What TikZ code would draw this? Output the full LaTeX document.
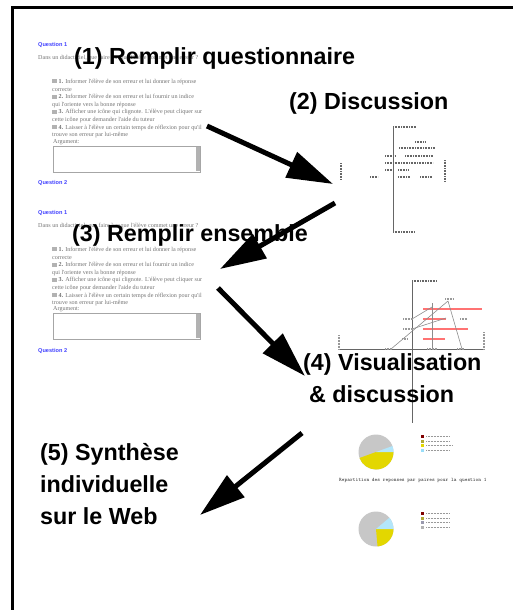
\documentclass[tikz,border=0pt]{standalone}
\usepackage{fontspec}
\setmainfont{Liberation Sans}
\newfontfamily\capturefont{Liberation Serif}
\usetikzlibrary{arrows.meta}

\newcommand{\caseq}{\textcolor{black!30}{\rule{5pt}{4pt}}}

\begin{document}
\begin{tikzpicture}[x=1pt,y=1pt,yscale=-1,
	etape/.style={font=\bfseries\fontsize{23.3}{32}\selectfont,anchor=base west,inner sep=0pt,align=left},
	fleche/.style={line width=5pt,-{Triangle[length=46pt,width=27pt]}},
	qtitre/.style={font=\bfseries\fontsize{5.6}{6.5}\selectfont,text=blue!75,anchor=west,inner sep=0pt},
	capture/.style={font=\capturefont\fontsize{6.1}{7.6}\selectfont,text=black!55,anchor=west,inner sep=0pt},
	gribouillis/.style={line width=1.4pt,dash pattern=on 1pt off 0.6pt,black!60},
	gribpale/.style={line width=1.2pt,dash pattern=on 1pt off 0.5pt,black!40},
	axe/.style={line width=0.8pt,black!60}]
	\useasboundingbox (0,0) rectangle (513,610);

	%Frame
	\draw [line width=3pt]  (12.5,610) -- (12.5,8) -- (513,8) ;

	%Capture: formulaire (1)
	% Text Node
	\node [qtitre] (qa) at (38,45) {Question 1};
	% Text Node
	\node [capture] (introa) at (38,58) {Dans un didacticiel, que faire lorsque l'élève commet une erreur ?};
	% Text Node
	\node [capture,anchor=north west,align=left] (choixa) at (52,79) {\caseq\ \textbf{1.} Informer l'élève de son erreur et lui donner la réponse\\ correcte\\ \caseq\ \textbf{2.} Informer l'élève de son erreur et lui fournir un indice\\ qui l'oriente vers la bonne réponse\\ \caseq\ \textbf{3.} Afficher une icône qui clignote. L'élève peut cliquer sur\\ cette icône pour demander l'aide du tuteur\\ \caseq\ \textbf{4.} Laisser à l'élève un certain temps de réflexion pour qu'il\\ trouve son erreur par lui-même};
	% Text Node
	\node [capture] (arga) at (53,142) {Argument:};
	%Shape: Rectangle
	\draw [black!35]  (53,146) rectangle (200,172) ;
	\fill [black!30]  (196,147) rectangle (199.5,171) ;
	% Text Node
	\node [qtitre] (qfina) at (38,183) {Question 2};

	%Capture: formulaire (3)
	% Text Node
	\node [qtitre] (qb) at (38,213) {Question 1};
	% Text Node
	\node [capture] (introb) at (38,226) {Dans un didacticiel, que faire lorsque l'élève commet une erreur ?};
	% Text Node
	\node [capture,anchor=north west,align=left] (choixb) at (52,247) {\caseq\ \textbf{1.} Informer l'élève de son erreur et lui donner la réponse\\ correcte\\ \caseq\ \textbf{2.} Informer l'élève de son erreur et lui fournir un indice\\ qui l'oriente vers la bonne réponse\\ \caseq\ \textbf{3.} Afficher une icône qui clignote. L'élève peut cliquer sur\\ cette icône pour demander l'aide du tuteur\\ \caseq\ \textbf{4.} Laisser à l'élève un certain temps de réflexion pour qu'il\\ trouve son erreur par lui-même};
	% Text Node
	\node [capture] (argb) at (53,309) {Argument:};
	%Shape: Rectangle
	\draw [black!35]  (53,313) rectangle (200,339) ;
	\fill [black!30]  (196,314) rectangle (199.5,338) ;
	% Text Node
	\node [qtitre] (qfinb) at (38,351) {Question 2};

	%Capture: graphe (2)
	\draw [axe]  (393,127) -- (393,232) ;
	\draw [gribouillis]  (393,127) -- (416,127) ;
	\draw [gribouillis]  (393,232) -- (414,232) ;
	\draw [gribouillis]  (341,163) -- (341,180) ;
	\draw [gribouillis]  (445,160) -- (445,181) ;
	\draw [gribouillis]  (415,142) -- (425,142) ;
	\draw [gribouillis]  (399,148) -- (435,148) ;
	\draw [gribouillis]  (385,156) -- (395,156) ;
	\draw [gribouillis]  (405,156) -- (433,156) ;
	\draw [gribouillis]  (385,163) -- (433,163) ;
	\draw [gribouillis]  (385,170) -- (392,170) ;
	\draw [gribouillis]  (398,170) -- (408,170) ;
	\draw [gribouillis]  (370,177) -- (378,177) ;
	\draw [gribouillis]  (398,177) -- (410,177) ;
	\draw [gribouillis]  (420,177) -- (432,177) ;

	%Capture: graphe (4)
	\draw [axe]  (412,280) -- (412,423) ;
	\draw [axe]  (340,349) -- (483,349) ;
	\draw [red!55,line width=2pt]  (423,309) -- (482,309) ;
	\draw [red!55,line width=2pt]  (423,319) -- (446,319) ;
	\draw [red!55,line width=2pt]  (423,329) -- (468,329) ;
	\draw [red!55,line width=2pt]  (423,339) -- (445,339) ;
	\draw [black!45,line width=0.6pt]  (391,349) -- (448,301) ;
	\draw [black!45,line width=0.6pt]  (432,303) -- (432,349) ;
	\draw [black!45,line width=0.6pt]  (448,301) -- (462,349) ;
	\draw [black!45,line width=0.6pt]  (412,319) -- (432,307) ;
	\draw [black!45,line width=0.6pt]  (412,329) -- (446,318) ;
	\draw [gribouillis]  (412,281) -- (437,281) ;
	\draw [gribpale]  (339,335) -- (339,350) ;
	\draw [gribpale]  (484,332) -- (484,350) ;
	\draw [gribpale]  (445,299) -- (453,299) ;
	\draw [gribpale]  (403,319) -- (413,319) ;
	\draw [gribpale]  (403,329) -- (413,329) ;
	\draw [gribpale]  (402,339) -- (408,339) ;
	\draw [gribpale]  (385,349) -- (392,349) ;
	\draw [gribpale]  (427,349) -- (437,349) ;
	\draw [gribpale]  (457,349) -- (464,349) ;
	\draw [gribpale]  (460,319) -- (467,319) ;

	%Camemberts
	\fill [black!22]  (376,452) circle (17.5) ;
	\fill [yellow!75!olive]  (376,452) -- ++(0:17.5) arc [start angle=0,end angle=160,radius=17.5] -- cycle ;
	\fill [cyan!30]  (376,452) -- ++(-20:17.5) arc [start angle=-20,end angle=0,radius=17.5] -- cycle ;
	\fill [red!50!black]  (421,435) rectangle ++(3,3) ;
	\fill [olive!70]  (421,440) rectangle ++(3,3) ;
	\fill [yellow!75!olive]  (421,444) rectangle ++(3,3) ;
	\fill [cyan!40]  (421,449) rectangle ++(3,3) ;
	\draw [gribpale]  (426,436.5) -- (450,436.5) ;
	\draw [gribpale]  (426,441.5) -- (450,441.5) ;
	\draw [gribpale]  (426,445.5) -- (452,445.5) ;
	\draw [gribpale]  (426,450.5) -- (450,450.5) ;
	% Text Node
	\node [font=\ttfamily\bfseries\fontsize{5.2}{6}\selectfont,text=black!75,anchor=west,inner sep=0pt] (titrepie) at (339,480) {Repartition des reponses par paires pour la question 1};
	\fill [black!22]  (376,529) circle (17.5) ;
	\fill [yellow!75!olive]  (376,529) -- ++(0:17.5) arc [start angle=0,end angle=85,radius=17.5] -- cycle ;
	\fill [cyan!30]  (376,529) -- ++(-40:17.5) arc [start angle=-40,end angle=0,radius=17.5] -- cycle ;
	\fill [red!50!black]  (421,512) rectangle ++(3,3) ;
	\fill [olive!70]  (421,517) rectangle ++(3,3) ;
	\fill [blue!20!black!40]  (421,521) rectangle ++(3,3) ;
	\fill [black!30]  (421,526) rectangle ++(3,3) ;
	\draw [gribpale]  (426,513.5) -- (450,513.5) ;
	\draw [gribpale]  (426,518.5) -- (450,518.5) ;
	\draw [gribpale]  (426,522.5) -- (450,522.5) ;
	\draw [gribpale]  (426,527.5) -- (450,527.5) ;

	% Text Node
	\node [etape] (e1) at (74,64) {(1) Remplir questionnaire};
	% Text Node
	\node [etape] (e2) at (289,109) {(2) Discussion};
	% Text Node
	\node [etape] (e3) at (72,241) {(3) Remplir ensemble};
	% Text Node
	\node [etape] (e4) at (303,402) {(4) Visualisation\\\hspace{6pt}\& discussion};
	% Text Node
	\node [etape] (e5) at (40,524) {(5) Synthèse\\individuelle\\sur le Web};

	%Straight Lines
	\coordinate (d1) at (207,126);
	\coordinate (f1) at (333,184);
	\coordinate (d2) at (335,203);
	\coordinate (f2) at (220,269);
	\coordinate (d3) at (218,288);
	\coordinate (f3) at (305,376);
	\coordinate (d4) at (302,433);
	\coordinate (f4) at (200,515);
	\draw [fleche]  (d1) -- (f1) ;
	\draw [fleche]  (d2) -- (f2) ;
	\draw [fleche]  (d3) -- (f3) ;
	\draw [fleche]  (d4) -- (f4) ;
\end{tikzpicture}
\end{document}
